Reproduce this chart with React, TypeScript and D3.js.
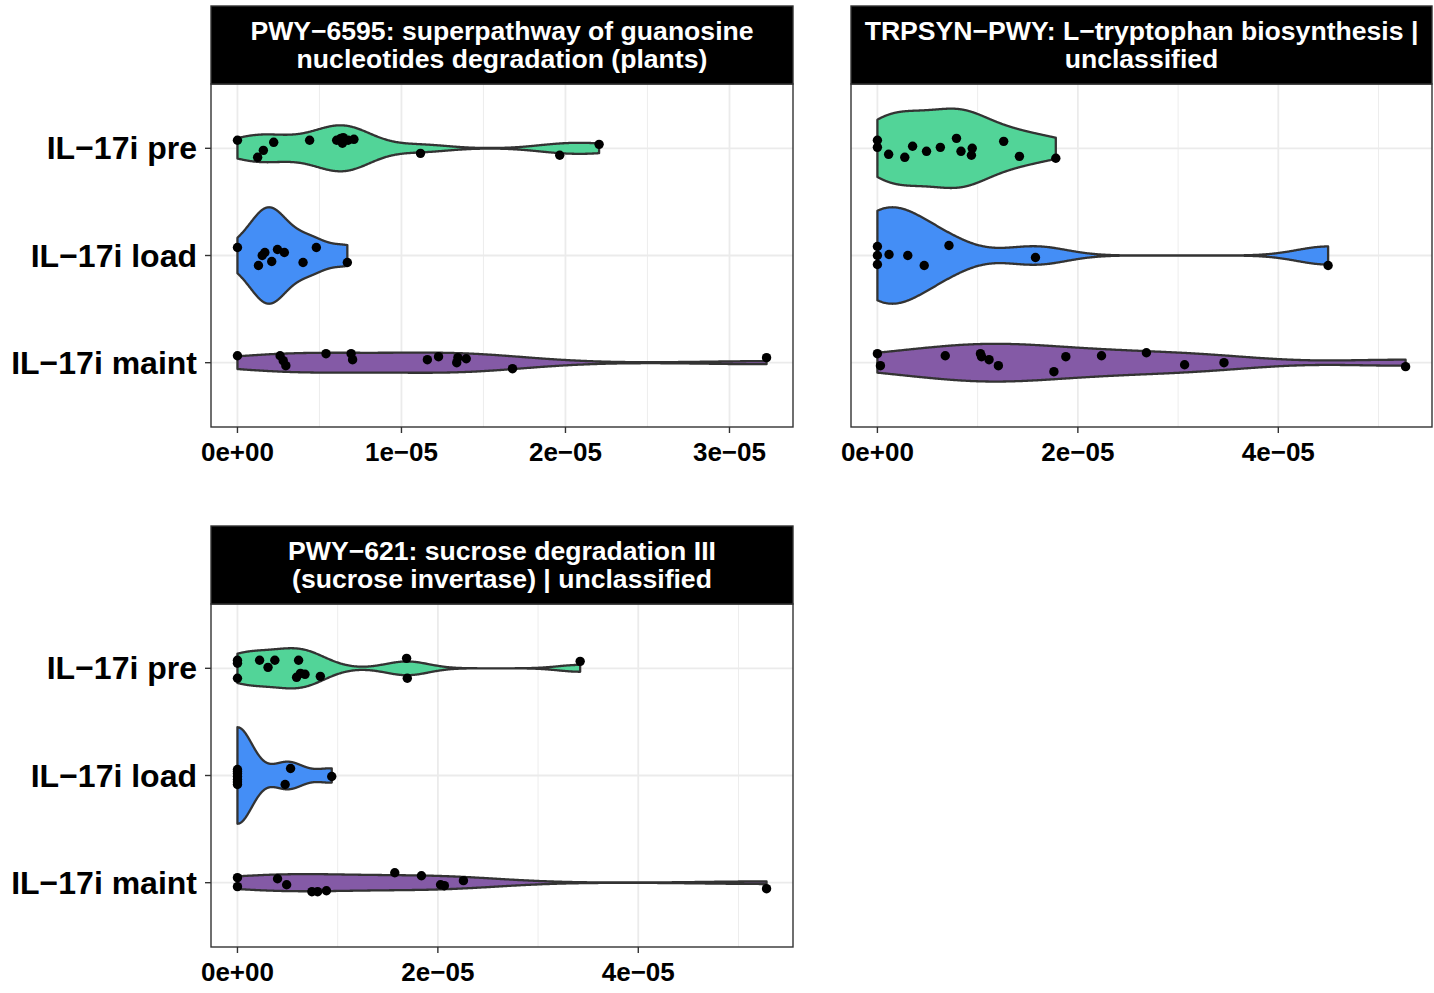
import React from 'react';
import * as d3 from 'd3';

// ---------- data (values in units of 1e-5) ----------
const groupLabels = ['IL−17i pre', 'IL−17i load', 'IL−17i maint'];
const groupFills = ['#52D498', '#448EF6', '#845AA6'];

const p1Title = ['PWY−6595: superpathway of guanosine', 'nucleotides degradation (plants)'];
const p1Pre = [0, 0.123, 0.158, 0.221, 0.44, 0.605, 0.63, 0.645, 0.64, 0.675, 0.71, 1.116, 1.965, 2.205];
const p1PreJit = [-0.075, 0.084, 0.019, -0.056, -0.075, -0.075, -0.093, -0.1, -0.047, -0.075, -0.084, 0.047, 0.065, -0.037];
const p1Load = [0, 0.128, 0.151, 0.167, 0.209, 0.244, 0.286, 0.4, 0.481, 0.67];
const p1LoadJit = [-0.075, 0.093, 0, -0.028, 0.056, -0.056, -0.028, 0.065, -0.075, 0.065];
const p1Maint = [0, 0.26, 0.279, 0.295, 0.54, 0.693, 0.702, 1.158, 1.226, 1.337, 1.344, 1.395, 1.677, 3.226];
const p1MaintJit = [-0.065, -0.065, -0.019, 0.028, -0.084, -0.084, -0.028, -0.028, -0.056, 0, -0.047, -0.037, 0.056, -0.047];
const p1Ticks = [0, 1, 2, 3];
const p1TickLabels = ['0e+00', '1e−05', '2e−05', '3e−05'];

const p2Title = ['TRPSYN−PWY: L−tryptophan biosynthesis |', 'unclassified'];
const p2Pre = [0, 0, 0.112, 0.273, 0.351, 0.49, 0.628, 0.789, 0.834, 0.946, 0.938, 1.26, 1.417, 1.78];
const p2PreJit = [-0.075, -0.009, 0.056, 0.084, -0.019, 0.028, -0.009, -0.093, 0.028, 0, 0.065, -0.065, 0.075, 0.093];
const p2Load = [0, 0, 0, 0.116, 0.303, 0.467, 0.714, 1.577, 4.497];
const p2LoadJit = [-0.084, 0, 0.084, -0.009, 0, 0.093, -0.093, 0.019, 0.093];
const p2Maint = [0, 0.03, 0.677, 1.028, 1.039, 1.114, 1.207, 1.761, 1.88, 2.236, 2.684, 3.065, 3.458, 5.27];
const p2MaintJit = [-0.084, 0.028, -0.065, -0.084, -0.056, -0.028, 0.028, 0.084, -0.056, -0.065, -0.093, 0.019, 0, 0.037];
const p2Ticks = [0, 2, 4];
const p2TickLabels = ['0e+00', '2e−05', '4e−05'];

const p3Title = ['PWY−621: sucrose degradation III', '(sucrose invertase) | unclassified'];
const p3Pre = [0, 0, 0, 0.221, 0.305, 0.373, 0.61, 0.59, 0.629, 0.674, 0.827, 1.688, 1.695, 3.42];
const p3PreJit = [-0.075, -0.047, 0.093, -0.075, -0.009, -0.075, -0.075, 0.084, 0.047, 0.056, 0.075, -0.093, 0.093, -0.065];
const p3Load = [0, 0, 0, 0, 0, 0, 0, 0.53, 0.476, 0.941];
const p3LoadJit = [-0.056, -0.037, -0.019, 0.009, 0.037, 0.06, 0.084, -0.065, 0.084, 0.009];
const p3Maint = [0, 0, 0.4, 0.491, 0.743, 0.8, 0.888, 1.57, 1.836, 2.027, 2.065, 2.255, 5.28];
const p3MaintJit = [-0.047, 0.037, -0.037, 0.019, 0.084, 0.084, 0.075, -0.093, -0.065, 0.019, 0.028, -0.019, 0.056];
const p3Ticks = [0, 2, 4];
const p3TickLabels = ['0e+00', '2e−05', '4e−05'];

// ---------- layout ----------
const panels = [
  { title: p1Title, series: [[p1Pre, p1PreJit], [p1Load, p1LoadJit], [p1Maint, p1MaintJit]], ticks: p1Ticks, tickLabels: p1TickLabels, x0: 211, x1: 793, y0: 84, y1: 427, yAxis: true },
  { title: p2Title, series: [[p2Pre, p2PreJit], [p2Load, p2LoadJit], [p2Maint, p2MaintJit]], ticks: p2Ticks, tickLabels: p2TickLabels, x0: 851, x1: 1432, y0: 84, y1: 427, yAxis: false },
  { title: p3Title, series: [[p3Pre, p3PreJit], [p3Load, p3LoadJit], [p3Maint, p3MaintJit]], ticks: p3Ticks, tickLabels: p3TickLabels, x0: 211, x1: 793, y0: 604, y1: 947, yAxis: true },
];
const STRIP_H = 78;
const FONT = '"Liberation Sans", Arial, Helvetica, sans-serif';

function kde(vals: number[], n = 512): [number, number][] {
  const s = vals.slice().sort(d3.ascending);
  const sd = d3.deviation(s) || 0;
  const iqr = (d3.quantileSorted(s, 0.75) as number) - (d3.quantileSorted(s, 0.25) as number);
  let lo = Math.min(sd, iqr / 1.34);
  if (!(lo > 0)) lo = sd || 1;
  const bw = 0.9 * lo * Math.pow(s.length, -0.2);
  const mn = s[0], mx = s[s.length - 1];
  const c = s.length * bw * Math.sqrt(2 * Math.PI);
  return d3.range(n).map((i) => {
    const x = mn + ((mx - mn) * i) / (n - 1);
    const d = d3.sum(s, (v) => Math.exp(-0.5 * ((x - v) / bw) ** 2)) / c;
    return [x, d] as [number, number];
  });
}

function Panel({ p }: { p: (typeof panels)[number] }) {
  const all = p.series.flatMap((s) => s[0]);
  const mn = d3.min(all) as number, mx = d3.max(all) as number;
  const pad = (mx - mn) * 0.05;
  const x = d3.scaleLinear().domain([mn - pad, mx + pad]).range([p.x0, p.x1]);
  const y = d3.scalePoint<string>().domain(groupLabels).range([p.y0, p.y1]).padding(0.6);
  const step = y.step();
  const dens = p.series.map((s) => kde(s[0]));
  const maxD = d3.max(dens.flat(), (d) => d[1]) as number;
  const [dlo, dhi] = x.domain();
  const minors: number[] = [];
  const tstep = p.ticks[1] - p.ticks[0];
  for (let t = p.ticks[0] - tstep / 2; t <= dhi; t += tstep) if (t >= dlo) minors.push(t);

  return (
    <g>
      <rect x={p.x0} y={p.y0} width={p.x1 - p.x0} height={p.y1 - p.y0} fill="#fff" />
      {minors.map((t, i) => (
        <line key={'mi' + i} x1={x(t)} x2={x(t)} y1={p.y0} y2={p.y1} stroke="#EBEBEB" strokeWidth={0.9} />
      ))}
      {p.ticks.map((t, i) => (
        <line key={'ma' + i} x1={x(t)} x2={x(t)} y1={p.y0} y2={p.y1} stroke="#EBEBEB" strokeWidth={1.8} />
      ))}
      {groupLabels.map((g) => (
        <line key={'h' + g} x1={p.x0} x2={p.x1} y1={y(g)} y2={y(g)} stroke="#EBEBEB" strokeWidth={1.8} />
      ))}
      {dens.map((d, gi) => {
        const cy = y(groupLabels[gi]) as number;
        const area = d3
          .area<[number, number]>()
          .x((q) => x(q[0]))
          .y0((q) => cy - (q[1] / maxD) * 0.45 * step)
          .y1((q) => cy + (q[1] / maxD) * 0.45 * step);
        return (
          <path key={'v' + gi} d={area(d) as string} fill={groupFills[gi]} stroke="#333333" strokeWidth={2.3} strokeLinejoin="round" />
        );
      })}
      {p.series.map((s, gi) =>
        s[0].map((v, i) => (
          <circle key={'pt' + gi + '-' + i} cx={x(v)} cy={(y(groupLabels[gi]) as number) + s[1][i] * step} r={4.7} fill="#000" />
        ))
      )}
      <rect x={p.x0} y={p.y0} width={p.x1 - p.x0} height={p.y1 - p.y0} fill="none" stroke="#333333" strokeWidth={1.4} />
      <rect x={p.x0} y={p.y0 - STRIP_H} width={p.x1 - p.x0} height={STRIP_H} fill="#000" stroke="#333333" strokeWidth={1.4} />
      {p.title.map((line, i) => (
        <text key={'t' + i} x={(p.x0 + p.x1) / 2} y={p.y0 - STRIP_H + 34 + i * 28} textAnchor="middle" fill="#fff" fontFamily={FONT} fontWeight="bold" fontSize={26.6}>
          {line}
        </text>
      ))}
      {p.ticks.map((t, i) => (
        <g key={'xt' + i}>
          <line x1={x(t)} x2={x(t)} y1={p.y1} y2={p.y1 + 6} stroke="#333333" strokeWidth={1.4} />
          <text x={x(t)} y={p.y1 + 34} textAnchor="middle" fill="#000" fontFamily={FONT} fontWeight="bold" fontSize={26}>
            {p.tickLabels[i]}
          </text>
        </g>
      ))}
      {p.yAxis &&
        groupLabels.map((g) => (
          <g key={'yt' + g}>
            <line x1={p.x0 - 6} x2={p.x0} y1={y(g)} y2={y(g)} stroke="#333333" strokeWidth={1.4} />
            <text x={p.x0 - 14} y={(y(g) as number) + 11} textAnchor="end" fill="#000" fontFamily={FONT} fontWeight="bold" fontSize={32}>
              {g}
            </text>
          </g>
        ))}
    </g>
  );
}

export default function App() {
  return (
    <svg width={1434} height={993} style={{ position: 'absolute', left: 0, top: 0, background: '#fff' }}>
      <rect width={1434} height={993} fill="#fff" />
      {panels.map((p, i) => (
        <Panel key={i} p={p} />
      ))}
    </svg>
  );
}
